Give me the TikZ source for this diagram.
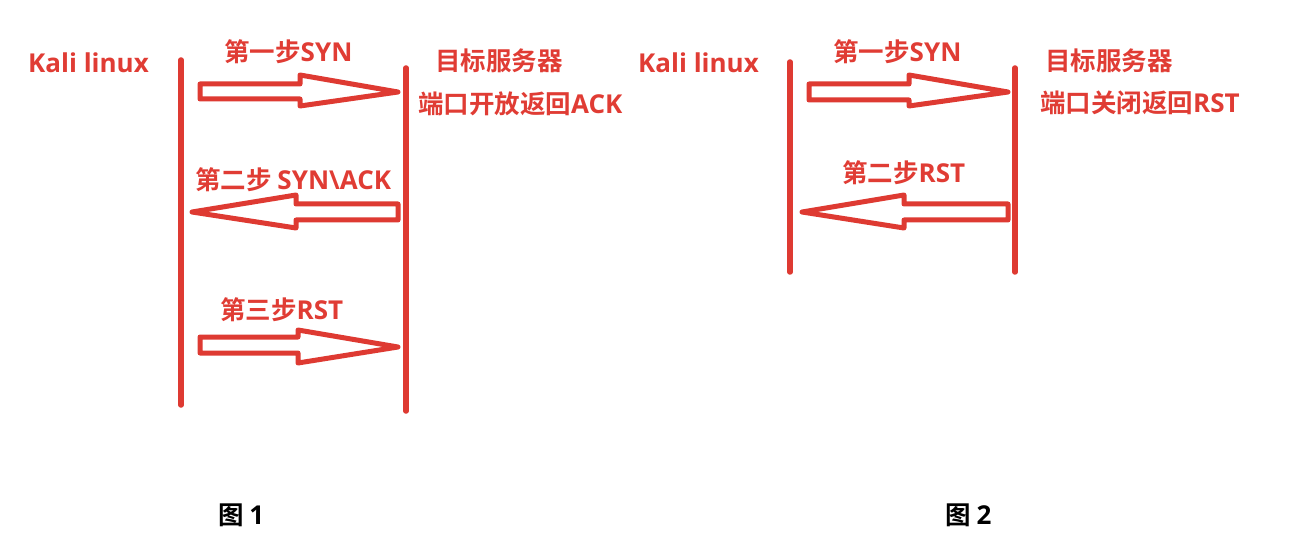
\documentclass[tikz,border=0pt]{standalone}
\usepackage{fontspec}
\setmainfont{Noto Sans CJK SC}[BoldFont={Noto Sans CJK SC Bold}]
\newfontfamily\cjkb{Noto Sans CJK SC Bold}
\newfontfamily\latb{Open Sans}[UprightFont={* Bold}]
\newcommand{\lt}[1]{{\latb\fontsize{26}{28}\selectfont #1}}
\definecolor{lred}{RGB}{222,58,50}
\definecolor{tred}{RGB}{224,60,52}
\begin{document}
\begin{tikzpicture}[x=1pt,y=-1pt,
  lifeline/.style={draw=lred,line width=5.5pt,line cap=round},
  blockarrow/.style={draw=lred,line width=5pt,line join=round,fill=white},
  lbl/.style={text=tred,font=\cjkb\fontsize{25.5}{28}\selectfont,inner sep=0pt,anchor=west},
  figcaption/.style={text=black,font=\cjkb\fontsize{25.5}{28}\selectfont,inner sep=0pt,anchor=west}]
\useasboundingbox (0,0) rectangle (1306,556);
% ---------- Figure 1 ----------
\coordinate (a1t) at (181,60); \coordinate (a1b) at (181,405);
\coordinate (b1t) at (406,68); \coordinate (b1b) at (406,411);
\draw[lifeline] (a1t) -- (a1b);
\draw[lifeline] (b1t) -- (b1b);
\node[lbl] (kali1) at (28,63) {\lt{Kali linux}};
\node[lbl] (srv1) at (435,61) {目标服务器};
\node[lbl] (st1) at (418,104) {端口开放返回\lt{ACK}};
\node[lbl] (s11) at (224,52) {第一步\lt{SYN}};
\node[lbl] (s12) at (195,180) {第二步 \lt{SYN\textbackslash ACK}};
\node[lbl] (s13) at (220,310) {第三步\lt{RST}};
% arrow 1 (right)
\draw[blockarrow] (200,84) -- (300,84) -- (300,75) -- (398,92) -- (300,106) -- (300,99) -- (200,99) -- cycle;
% arrow 2 (left)
\draw[blockarrow] (398,204) -- (296,204) -- (296,195) -- (192,212) -- (296,228) -- (296,220) -- (398,220) -- cycle;
% arrow 3 (right)
\draw[blockarrow] (200,337) -- (298,337) -- (298,330) -- (398,347) -- (298,363) -- (298,353) -- (200,353) -- cycle;
\node[figcaption] (fig1) at (218,515) {图 \lt{1}};
% ---------- Figure 2 ----------
\coordinate (a2t) at (790,62); \coordinate (a2b) at (790,272);
\coordinate (b2t) at (1015,68); \coordinate (b2b) at (1015,272);
\draw[lifeline] (a2t) -- (a2b);
\draw[lifeline] (b2t) -- (b2b);
\node[lbl] (kali2) at (638,63) {\lt{Kali linux}};
\node[lbl] (srv2) at (1045,61) {目标服务器};
\node[lbl] (st2) at (1040,103) {端口关闭返回\lt{RST}};
\node[lbl] (s21) at (833,52) {第一步\lt{SYN}};
\node[lbl] (s22) at (842,173) {第二步\lt{RST}};
% arrow 1 (right)
\draw[blockarrow] (809,84) -- (909,84) -- (909,75) -- (1008,92) -- (909,106) -- (909,100) -- (809,100) -- cycle;
% arrow 2 (left)
\draw[blockarrow] (1008,204) -- (904,204) -- (904,195) -- (802,212) -- (904,228) -- (904,220) -- (1008,220) -- cycle;
\node[figcaption] (fig2) at (945,515) {图 \lt{2}};
\end{tikzpicture}
\end{document}
